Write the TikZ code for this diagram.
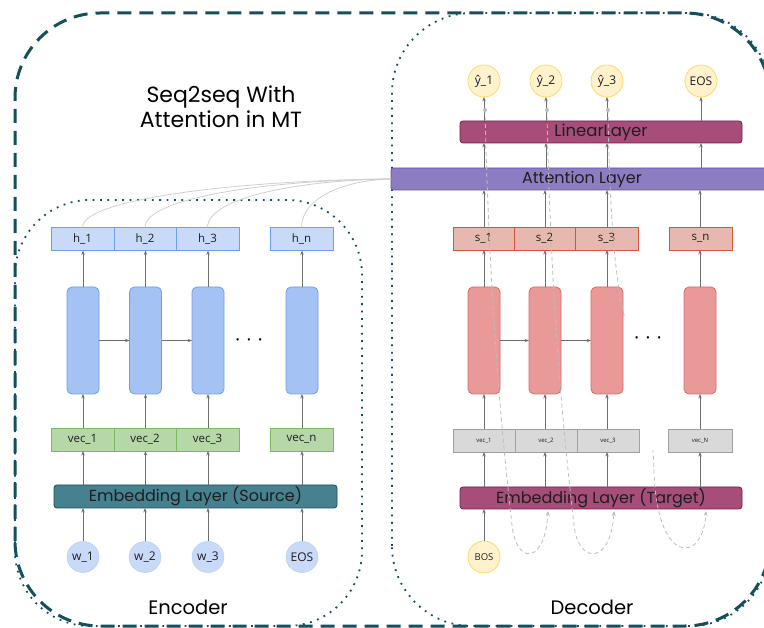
\documentclass[tikz,border=0pt]{standalone}
\usepackage{fontspec}
\setmainfont{Open Sans}
\newfontfamily\geofont{Poppins}
\usetikzlibrary{arrows.meta,calc,shapes.geometric}

\definecolor{frameteal}{HTML}{134F5C}
\definecolor{arrowgray}{HTML}{6E6E6E}
\definecolor{feedgray}{HTML}{BDBDBD}
\definecolor{linkgray}{HTML}{CFCFCF}
\definecolor{hfill}{HTML}{C9DAF8}
\definecolor{hdraw}{HTML}{6D9EEB}
\definecolor{encfill}{HTML}{A4C2F4}
\definecolor{vecfill}{HTML}{B6D7A8}
\definecolor{vecdraw}{HTML}{7CB861}
\definecolor{srcfill}{HTML}{45818E}
\definecolor{plumfill}{HTML}{A64D79}
\definecolor{plumdraw}{HTML}{741B47}
\definecolor{attfill}{HTML}{8E7CC3}
\definecolor{attdraw}{HTML}{674EA7}
\definecolor{sfill}{HTML}{E6B8AF}
\definecolor{sdraw}{HTML}{D6553A}
\definecolor{decfill}{HTML}{EA9999}
\definecolor{decdraw}{HTML}{E06666}
\definecolor{tgtfill}{HTML}{D9D9D9}
\definecolor{tgtdraw}{HTML}{A0A0A0}
\definecolor{tokfill}{HTML}{FFF2CC}
\definecolor{tokdraw}{HTML}{FFD966}
\definecolor{inkgray}{HTML}{1E1E1E}

\begin{document}
\begin{tikzpicture}[x=1pt,y=-1pt,
  arr/.style={draw=arrowgray,line width=0.8pt,-{Stealth[length=4.5pt,width=3.4pt]}},
  feed/.style={draw=feedgray,line width=0.8pt,dash pattern=on 4pt off 3pt,-{Stealth[length=5pt,width=4pt]}},
  attlink/.style={draw=linkgray,line width=0.8pt},
  frameline/.style={draw=frameteal,line width=3pt,dash pattern=on 14pt off 8pt},
  groupline/.style={draw=frameteal,line width=1.8pt,dash pattern=on 1.8pt off 5.6pt},
  slot/.style={draw,line width=0.8pt,outer sep=0pt,inner sep=0pt,minimum height=23pt,text=inkgray},
  hstate/.style={slot,fill=hfill,draw=hdraw,font=\fontsize{11.5}{12}\selectfont},
  srcvec/.style={slot,fill=vecfill,draw=vecdraw,font=\fontsize{11.5}{12}\selectfont},
  sstate/.style={slot,fill=sfill,draw=sdraw,font=\fontsize{11.5}{12}\selectfont},
  tgtvec/.style={slot,fill=tgtfill,draw=tgtdraw,font=\fontsize{6}{7}\selectfont},
  rnn/.style={draw,line width=0.8pt,outer sep=0pt,rounded corners=5pt,minimum width=32pt,minimum height=107pt},
  enccell/.style={rnn,fill=encfill,draw=hdraw},
  deccell/.style={rnn,fill=decfill,draw=decdraw},
  layer/.style={draw,line width=0.8pt,outer sep=0pt,inner sep=0pt,rounded corners=3pt,minimum height=22pt,
    text=inkgray,font=\geofont\fontsize{16}{17}\selectfont},
  srctok/.style={ellipse,fill=hfill,draw=hfill!80!hdraw,line width=0.5pt,minimum width=32pt,minimum height=31pt,
    inner sep=0pt,outer sep=0pt,text=inkgray,font=\fontsize{12}{13}\selectfont},
  tgttok/.style={ellipse,fill=tokfill,draw=tokdraw,line width=0.8pt,minimum width=32pt,minimum height=32pt,
    inner sep=0pt,outer sep=0pt,text=inkgray,font=\fontsize{12}{13}\selectfont},
  ellip/.style={font=\fontsize{10}{10}\selectfont,text=black},
  caption/.style={text=black,font=\geofont\fontsize{19.5}{22}\selectfont}
]
\useasboundingbox (0,0) rectangle (764,628);
\clip (0,0) rectangle (764,628);

% outer frame: rounded box whose right side runs just past the page edge
\draw[frameline]
  (15,541) -- (15,98) .. controls (15,51.1) and (53.1,13) .. (100,13) -- (685,13)
  .. controls (731.9,13) and (770,51.1) .. (770,98)
  (770,541) .. controls (770,587.9) and (731.9,626) .. (685,626) -- (100,626)
  .. controls (53.1,626) and (15,587.9) .. (15,541);
% encoder group
\draw[groupline,rounded corners=75pt] (15,200) rectangle (362,626);
% decoder group
\draw[groupline]
  (392,546) -- (392,93) .. controls (392,48.8) and (427.8,13) .. (472,13) -- (690,13)
  .. controls (734.2,13) and (770,48.8) .. (770,93)
  (770,546) .. controls (770,590.2) and (734.2,626) .. (690,626) -- (472,626)
  .. controls (427.8,626) and (392,590.2) .. (392,546);

\node[caption,align=center,font=\geofont\fontsize{22}{25}\selectfont] (title) at (221,107) {Seq2seq With\\Attention in MT};
\node[caption] (enclabel) at (188,607) {Encoder};
\node[caption] (declabel) at (592,607) {Decoder};

% ---------------- encoder ----------------
\node[hstate,minimum width=63pt] (h1) at (82.5,239) {h\_1};
\node[hstate,minimum width=62pt] (h2) at (145,239) {h\_2};
\node[hstate,minimum width=63pt] (h3) at (207.5,239) {h\_3};
\node[hstate,minimum width=63pt] (hn) at (301.5,239) {h\_n};

\node[enccell] (e1) at (83,340.5) {};
\node[enccell] (e2) at (145.5,340.5) {};
\node[enccell] (e3) at (208,340.5) {};
\node[enccell] (en) at (302,340.5) {};
\node[ellip] (edots) at (249,341) {•\hspace{7.5pt}•\hspace{7.5pt}•};

\node[srcvec,minimum width=63pt] (v1) at (82.5,439.5) {vec\_1};
\node[srcvec,minimum width=62pt] (v2) at (145,439.5) {vec\_2};
\node[srcvec,minimum width=63pt] (v3) at (207.5,439.5) {vec\_3};
\node[srcvec,minimum width=63pt] (vn) at (301.5,439.5) {vec\_n};

\node[layer,fill=srcfill,draw=frameteal,minimum width=283pt,minimum height=23pt] (embS) at (195.5,496.5) {Embedding Layer (Source)};

\node[srctok] (w1) at (83,557) {w\_1};
\node[srctok] (w2) at (145,557) {w\_2};
\node[srctok] (w3) at (208,557) {w\_3};
\node[srctok] (wn) at (302,557) {EOS};

\foreach \w/\v/\e/\h in {w1/v1/e1/h1,w2/v2/e2/h2,w3/v3/e3/h3,wn/vn/en/hn}{
  \draw[arr] (\w.north) -- (\w.north |- embS.south);
  \draw[arr] (embS.north -| \e) -- (\e |- \v.south);
  \draw[arr] (\v.north -| \e) -- (\e.south);
  \draw[arr] (\e.north) -- (\e |- \h.south);
}
\draw[arr] (e1.east) -- (e2.west);
\draw[arr] (e2.east) -- (e3.west);

% ---------------- decoder ----------------
\node[layer,fill=attfill,draw=attdraw,rounded corners=2pt,minimum width=382pt] (attn) at (582,179) {Attention Layer};
\node[layer,fill=plumfill,draw=plumdraw,minimum width=282pt,font=\geofont\fontsize{16.5}{17}\selectfont] (lin) at (601,132) {LinearLayer};

\node[tgttok] (y1) at (484,81) {ŷ\_1};
\node[tgttok] (y2) at (546,81) {ŷ\_2};
\node[tgttok] (y3) at (607,81) {ŷ\_3};
\node[tgttok] (yn) at (701,81) {EOS};

\node[sstate,minimum width=61pt] (s1) at (483.5,238.5) {s\_1};
\node[sstate,minimum width=61pt] (s2) at (544.5,238.5) {s\_2};
\node[sstate,minimum width=63pt] (s3) at (606.5,238.5) {s\_3};
\node[sstate,minimum width=63pt] (sn) at (700.5,238.5) {s\_n};

\node[deccell] (d1) at (484,340.5) {};
\node[deccell] (d2) at (545,340.5) {};
\node[deccell] (d3) at (607,340.5) {};
\node[deccell] (dn) at (700,340.5) {};

\node[tgtvec,minimum width=62pt] (t1) at (484,440.5) {vec\_1};
\node[tgtvec,minimum width=62pt] (t2) at (546,440.5) {vec\_2};
\node[tgtvec,minimum width=62pt] (t3) at (608,440.5) {vec\_3};
\node[tgtvec,minimum width=64pt] (tn) at (700,440.5) {vec\_N};

\node[layer,fill=plumfill,draw=plumdraw,minimum width=282pt] (embT) at (601,498) {Embedding Layer (Target)};

\node[tgttok,font=\fontsize{9.5}{10}\selectfont] (bos) at (484,557) {BOS};

\draw[arr] (bos.north) -- (bos.north |- embT.south);
\foreach \t/\d/\s/\y in {t1/d1/s1/y1,t2/d2/s2/y2,t3/d3/s3/y3,tn/dn/sn/yn}{
  \draw[arr] (embT.north -| \d) -- (\d |- \t.south);
  \draw[arr] (\t.north -| \d) -- (\d.south);
  \draw[arr] (\d.north) -- (\d |- \s.south);
  \draw[arr] (\s.north -| \d) -- (\d |- attn.south);
  \draw[arr] (attn.north -| \y) -- (\y |- lin.south);
  \draw[arr] (lin.north -| \y) -- (\y.south);
}
\draw[arr] (d1.east) -- (d2.west);
\draw[arr] (d2.east) -- (d3.west);

% encoder states feeding the attention layer
\foreach \h/\c in {h1/250,h2/270,h3/300,hn/345}{
  \draw[attlink] (\h.north) .. controls ($(\h.north)+(0,-30)$) and (\c,180) .. (attn.west);
}

% each prediction is fed back as the next input
\coordinate (f1) at (485,110);
\coordinate (f2) at (547,110);
\coordinate (f3) at (608,110);
\coordinate (g1) at (548,511);
\coordinate (g2) at (614,511);
\coordinate (g3) at (706,511);
\draw[feed] (f1) .. controls (490,330) and (506,470) .. (512,525)
  .. controls (516,565) and (545,565) .. (g1);
\draw[feed] (f2) .. controls (551,330) and (568,470) .. (574,525)
  .. controls (578,565) and (611,565) .. (g2);
\draw[feed] (f3) .. controls (610,230) and (616,290) .. (628,330)
  .. controls (640,370) and (652,410) .. (654,470)
  .. controls (656,565) and (703,565) .. (g3);
\foreach \f in {f1,f2,f3}{\fill[feedgray] (\f) circle (2pt);}

% backing of the ellipsis text box
\fill[white] (625,308) -- (667,308) -- (667,450) -- (640.5,450) -- (640.5,428) -- (625,428) -- cycle;
\node[ellip] (ddots) at (648,339) {•\hspace{7.5pt}•\hspace{7.5pt}•};
\end{tikzpicture}
\end{document}
